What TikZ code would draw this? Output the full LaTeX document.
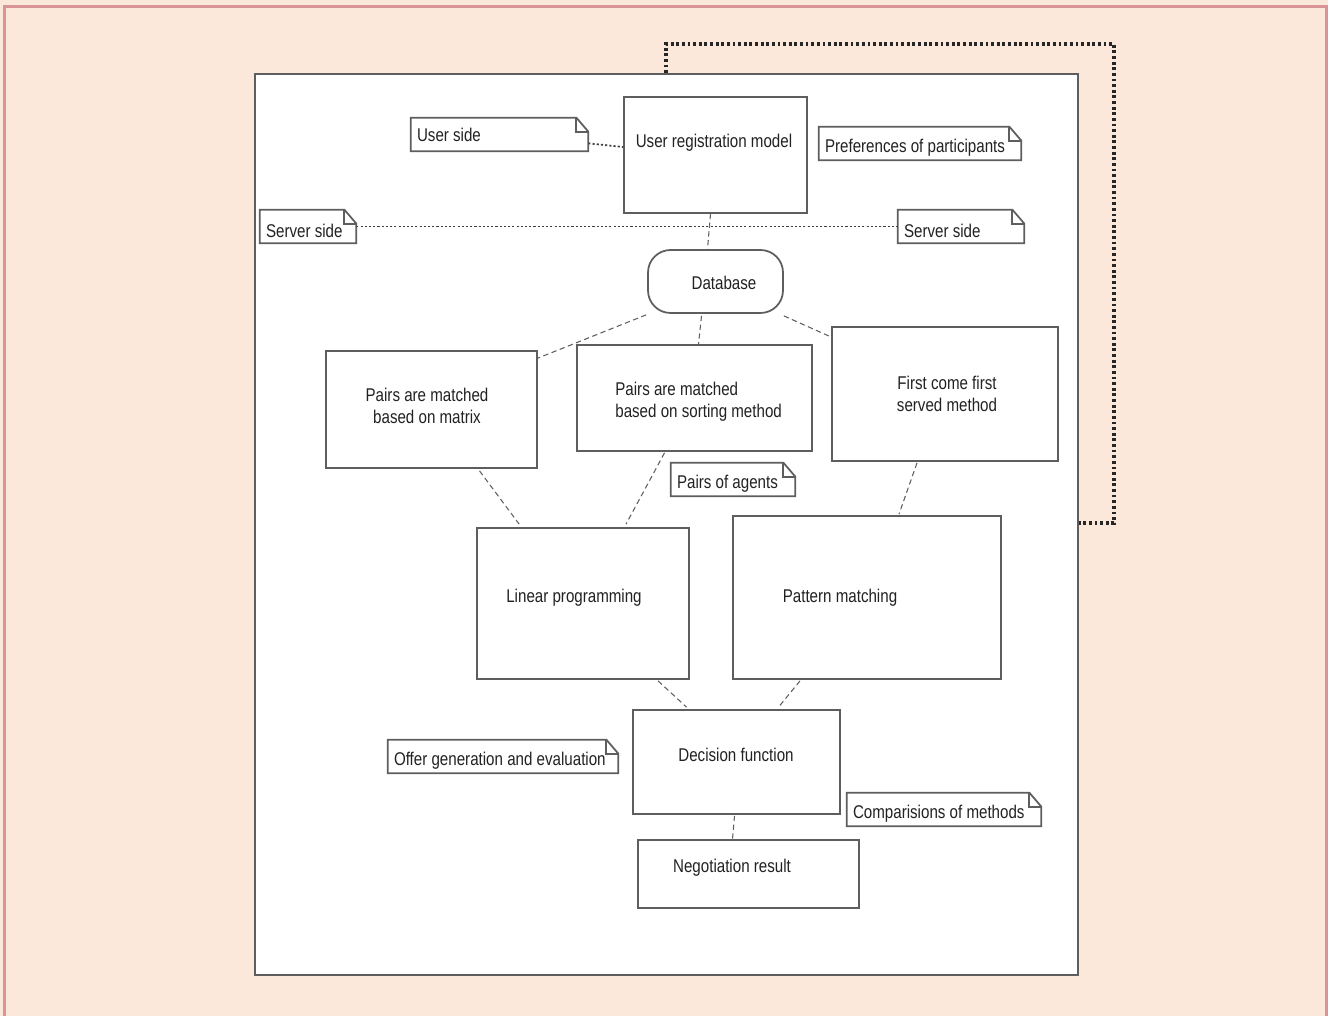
\documentclass[tikz,border=0pt]{standalone}
\usepackage{fontspec}
\setmainfont[FakeStretch=0.82]{Liberation Sans}
\usetikzlibrary{calc}
\definecolor{mybgcolor}{HTML}{FBE8DA}
\definecolor{myedgecolor}{HTML}{D99595}
\definecolor{mylinecolor}{HTML}{5E5E5E}
\definecolor{mytextcolor}{HTML}{222222}

% note outline with folded corner
\newcommand{\notefold}[1]{%
\draw[boxline] (#1.north west) -- ([xshift=-0.24cm]#1.north east) -- ([yshift=-0.28cm]#1.north east) -- (#1.south east) -- (#1.south west) -- cycle;%
\draw[boxline] ([xshift=-0.24cm]#1.north east) |- ([yshift=-0.28cm]#1.north east);%
}
% left aligned note text, a bit lowered
\newcommand{\notetext}[2]{\raisebox{-0.08cm}[\height][\depth]{\makebox[#1][l]{#2}}}

\begin{document}
\begin{tikzpicture}[x=0.02cm, y=-0.02cm,
  boxline/.style={draw=mylinecolor, line width=1pt},
  box/.style={boxline, fill=white, rectangle, inner sep=0pt},
  txt/.style={text=mytextcolor, font=\fontsize{10.5pt}{12.5pt}\selectfont, inner sep=0pt},
  note/.style={txt, minimum height=0.66cm, inner xsep=0.12cm, inner ysep=0pt},
  link/.style={draw=mylinecolor, line width=0.6pt, dash pattern=on 3pt off 2pt},
  dotlink/.style={draw=black!75, line width=1pt, dash pattern=on 1.2pt off 1.2pt},
  feedback/.style={draw=black!85, line width=1.8pt, dash pattern=on 1.6pt off 1.6pt}]
\useasboundingbox (0,0) rectangle (1328,1016);
\fill[mybgcolor] (0,0) rectangle (1328,1016);
\draw[myedgecolor, line width=1.6pt] (4.5,1016) -- (4.5,6.5) -- (1328,6.5);
\draw[myedgecolor, line width=1.6pt] (1326.5,6.5) -- (1326.5,1016);

% frame
\node[box, line width=1.2pt, minimum width=16.46cm, minimum height=18.02cm] (frame) at (666.5,524.5) {};

% boxes
\node[box, minimum width=3.66cm, minimum height=2.32cm] (reg) at (715.5,155) {};
\node[box, rounded corners=0.45cm, minimum width=2.7cm, minimum height=1.26cm] (db) at (715.5,281.5) {};
\node[box, minimum width=4.22cm, minimum height=2.34cm] (matrix) at (431.5,409.5) {};
\node[box, minimum width=4.7cm, minimum height=2.12cm] (sort) at (694.5,398) {};
\node[box, minimum width=4.52cm, minimum height=2.68cm] (fcfs) at (945,394) {};
\node[box, minimum width=4.24cm, minimum height=3.02cm] (lp) at (583,603.5) {};
\node[box, minimum width=5.36cm, minimum height=3.26cm] (pm) at (867,597.5) {};
\node[box, minimum width=4.14cm, minimum height=2.08cm] (dec) at (736.5,762) {};
\node[box, minimum width=4.42cm, minimum height=1.36cm] (neg) at (748.5,874) {};

% box texts
\node[txt] (regtxt) at (714,143) {User registration model};
\node[txt] (dbtxt) at (724,283) {Database};
\node[txt, align=center] (matrixtxt) at (427,406) {Pairs are matched\\based on matrix};
\node[txt, align=left, anchor=west] (sorttxt) at (615,402) {Pairs are matched\\based on sorting method};
\node[txt, align=center] (fcfstxt) at (947,394) {First come first\\served method};
\node[txt] (lptxt) at (574,598) {Linear programming};
\node[txt] (pmtxt) at (840,598) {Pattern matching};
\node[txt] (dectxt) at (736,755) {Decision function};
\node[txt] (negtxt) at (732,868) {Negotiation result};

% notes
\node[note] (usr) at (499.5,134.5) {\makebox[3.30cm][l]{User side}};
\node[note] (pref) at (920,143.5) {\notetext{3.80cm}{Preferences of participants}};
\node[note] (srvl) at (308,226.5) {\notetext{1.68cm}{Server side}};
\node[note] (srvr) at (961,226.5) {\notetext{2.28cm}{Server side}};
\node[note] (agents) at (733,479.5) {\notetext{2.24cm}{Pairs of agents}};
\node[note] (offer) at (503,756.5) {\notetext{4.36cm}{Offer generation and evaluation}};
\node[note] (comp) at (944,809.5) {\notetext{3.64cm}{Comparisions of methods}};
\foreach \n in {usr,pref,srvl,srvr,agents,offer,comp} {\notefold{\n}}

% connectors
\draw[dotlink] ($(usr.south east)+(0,-8)$) -- ($(reg.west)+(0,-8)$);
\draw[dotlink] (srvl.east) -- (srvr.west);
\draw[link] ($(reg.south)+(-5,0)$) -- ($(db.north)+(-8,0)$);
\draw[link] ($(db.south west)+(-1,1)$) -- ($(matrix.north east)+(0,8)$);
\draw[link] ($(db.south)+(-14,2)$) -- ($(sort.north)+(4,0)$);
\draw[link] ($(db.south east)+(0,2)$) -- ($(fcfs.north west)+(-2,10)$);
\draw[link] ($(matrix.south)+(48,2)$) -- ($(lp.north west)+(43,-3)$);
\draw[link] ($(sort.south)+(-30,1)$) -- ($(lp.north)+(43,-3)$);
\draw[link] ($(fcfs.south)+(-28,1)$) -- ($(pm.north)+(32,-1)$);
\draw[link] ($(lp.south)+(75,1)$) -- ($(dec.north)+(-50,-2)$);
\draw[link] ($(pm.south)+(-67,1)$) -- ($(dec.north)+(42,-2)$);
\draw[link] ($(dec.south)+(-2,1)$) -- ($(neg.north)+(-16,0)$);

% feedback loop
\coordinate (loopcorner) at (1114,44);
\draw[feedback] ($(frame.north west)+(412,0)$) |- (loopcorner) |- ($(frame.north east)+(0,450)$);
\end{tikzpicture}
\end{document}
